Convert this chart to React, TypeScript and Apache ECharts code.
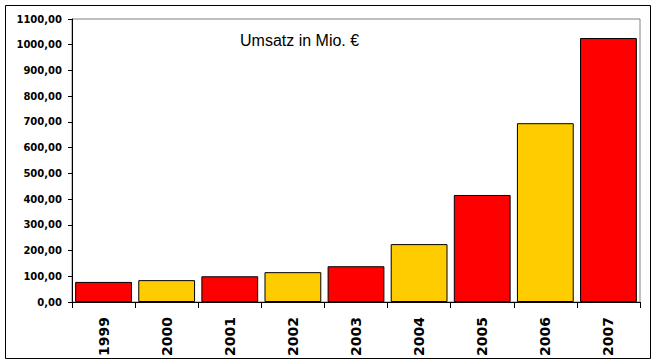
import React, { useEffect, useRef } from "react";
import * as echarts from "echarts";

const years = ["1999", "2000", "2001", "2002", "2003", "2004", "2005", "2006", "2007"];
const umsatz = [78, 85, 100, 116, 139, 225, 416, 695, 1026];
const yTicks = { min: 0, max: 1100, interval: 100 };
const chartTitle = "Umsatz in Mio. €";

const RED = "#FF0000";
const YELLOW = "#FFCC00";

export default function App() {
  const ref = useRef<HTMLDivElement>(null);
  useEffect(() => {
    if (!ref.current) return;
    const chart = echarts.init(ref.current, null, { renderer: "svg" });
    chart.setOption({
      animation: false,
      backgroundColor: "#ffffff",
      title: {
        text: chartTitle,
        left: 240,
        top: 32,
        padding: 0,
        textStyle: {
          fontFamily: "Liberation Sans, Arial, sans-serif",
          fontSize: 16,
          fontWeight: "normal",
          color: "#000",
        },
      },
      graphic: [
        {
          type: "rect",
          shape: { x: 5.5, y: 5.5, width: 645, height: 353 },
          style: { fill: "none", stroke: "#000", lineWidth: 1 },
          silent: true,
          z: 100,
        },
      ],
      grid: {
        left: 72,
        right: 15,
        top: 19,
        bottom: 61,
        show: true,
        borderColor: "#808080",
        borderWidth: 1,
        backgroundColor: "transparent",
      },
      xAxis: {
        type: "category",
        data: years,
        boundaryGap: true,
        axisLine: { show: true, lineStyle: { color: "#000", width: 1 } },
        axisTick: { show: true, length: 6, lineStyle: { color: "#000" } },
        axisLabel: {
          rotate: 90,
          margin: 15,
          color: "#000",
          fontFamily: "DejaVu Sans, sans-serif",
          fontWeight: "bold",
          fontSize: 14,
        },
        splitLine: { show: false },
      },
      yAxis: {
        type: "value",
        min: yTicks.min,
        max: yTicks.max,
        interval: yTicks.interval,
        axisLine: { show: true, lineStyle: { color: "#000", width: 1 } },
        axisTick: { show: true, length: 4, lineStyle: { color: "#000" } },
        splitLine: { show: false },
        axisLabel: {
          margin: 10,
          color: "#000",
          fontFamily: "DejaVu Sans, sans-serif",
          fontWeight: "bold",
          fontSize: 10,
          formatter: (v: number) => v.toFixed(2).replace(".", ","),
        },
      },
      series: [
        {
          type: "bar",
          data: umsatz,
          barCategoryGap: "10%",
          itemStyle: {
            color: (p: any) => (p.dataIndex % 2 === 0 ? RED : YELLOW),
            borderColor: "#000",
            borderWidth: 1,
          },
        },
      ],
    });
    return () => chart.dispose();
  }, []);
  return (
    <div
      ref={ref}
      style={{ position: "absolute", left: 0, top: 0, width: 655, height: 363, background: "#fff" }}
    />
  );
}
